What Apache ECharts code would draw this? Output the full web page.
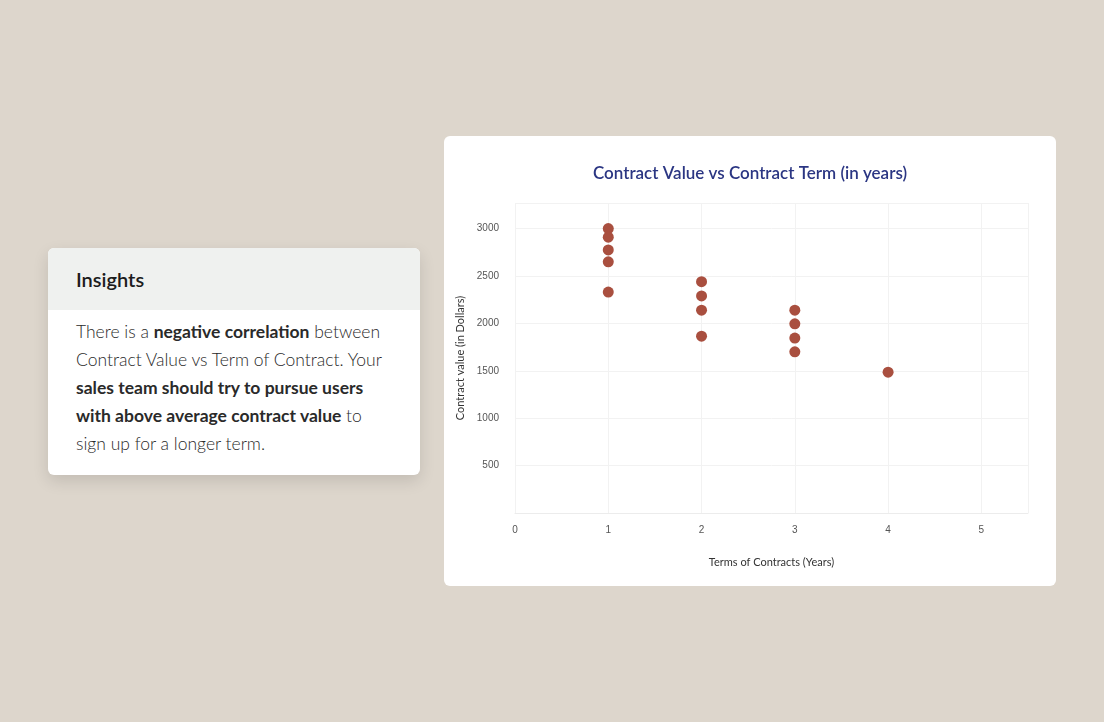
<!DOCTYPE html>
<html>
<head>
<meta charset="utf-8">
<script src="https://cdn.jsdelivr.net/npm/echarts@6/dist/echarts.min.js"></script>
<style>
  html, body { margin: 0; padding: 0; }
  body { width: 1104px; height: 722px; background: #ddd6cc; font-family: Lato, "Open Sans", sans-serif; position: relative; overflow: hidden; }
  .insights { position: absolute; left: 48px; top: 248px; width: 372px; height: 227px; background: #fff; border-radius: 6px; box-shadow: 0 6px 16px rgba(0,0,0,0.12); overflow: hidden; }
  .insights .head { background: #eff1ef; height: 62px; line-height: 62px; padding-left: 28px; font-size: 20px; font-weight: 600; color: #1c1c1c; }
  .insights .body { padding: 8px 30px 0 28px; font-size: 17.5px; line-height: 28px; color: #2a2a2a; font-weight: 300; }
  .insights b { font-weight: 700; }
  .card { position: absolute; left: 444px; top: 136px; width: 612px; height: 450px; background: #fff; border-radius: 6px; }
  #chart { width: 612px; height: 450px; }
</style>
</head>
<body>
<div class="insights">
  <div class="head">Insights</div>
  <div class="body">There is a <b>negative correlation</b> between Contract Value vs Term of Contract. Your <b>sales team should try to pursue users with above average contract value</b> to sign up for a longer term.</div>
</div>
<div class="card"><div id="chart"></div></div>
<script>
const terms = [1, 1, 1, 1, 1, 2, 2, 2, 2, 3, 3, 3, 3, 4];
const values = [3000, 2910, 2775, 2650, 2330, 2440, 2290, 2140, 1865, 2140, 1995, 1845, 1700, 1485];
const xTicks = [0, 1, 2, 3, 4, 5];

const chart = echarts.init(document.getElementById('chart'));
chart.setOption({
  title: {
    text: 'Contract Value vs Contract Term (in years)',
    left: 'center', top: 24,
    textStyle: { color: '#2b3683', fontSize: 17, fontWeight: 600, fontFamily: 'Lato' }
  },
  grid: { left: 71, right: 28, top: 67, bottom: 73 },
  xAxis: {
    type: 'value', min: 0, max: 5.5, interval: 1,
    name: 'Terms of Contracts (Years)', nameLocation: 'middle', nameGap: 44,
    nameTextStyle: { color: '#333', fontSize: 11, fontFamily: 'Lato' },
    axisLine: { show: true, lineStyle: { color: '#ececec' } },
    axisTick: { show: false },
    axisLabel: { color: '#555', fontSize: 10, margin: 12, formatter: v => xTicks.includes(v) ? String(v) : '' },
    splitLine: { show: true, lineStyle: { color: '#f2f2f2' } }
  },
  yAxis: {
    type: 'value', min: 0, max: 3270, interval: 500,
    name: 'Contract value (in Dollars)', nameLocation: 'middle', nameGap: 40,
    nameTextStyle: { color: '#333', fontSize: 11, fontFamily: 'Lato' },
    axisLine: { show: false },
    axisTick: { show: false },
    axisLabel: { color: '#555', fontSize: 10, margin: 16, formatter: v => (v > 0 && v <= 3000) ? String(v) : '' },
    splitLine: { show: true, lineStyle: { color: '#f2f2f2' } }
  },
  series: [{
    type: 'scatter',
    symbolSize: 11,
    itemStyle: { color: '#a94f3f', opacity: 1 },
    data: terms.map((t, i) => [t, values[i]])
  }]
});
</script>
</body>
</html>
